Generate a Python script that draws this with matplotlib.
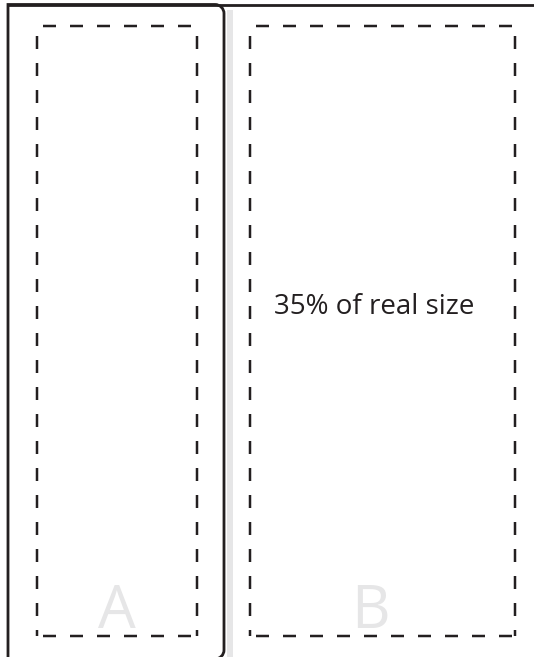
import matplotlib
matplotlib.use("Agg")
import matplotlib.pyplot as plt
from matplotlib.patches import Rectangle, PathPatch
from matplotlib.path import Path
from matplotlib.lines import Line2D

# content
panel_labels = ["A", "B"]
caption = "35% of real size"

W, H = 534, 657
fig = plt.figure(figsize=(W / 100, H / 100), dpi=100)
ax = fig.add_axes([0, 0, 1, 1])
ax.set_xlim(0, W)
ax.set_ylim(H, 0)
ax.axis("off")

ink = "#231f20"
px = 72 / 100  # points per pixel

# shadow of left panel
ax.add_patch(Rectangle((226.5, 10), 6.5, 660, facecolor="#e6e6e7", edgecolor="none", zorder=1))

# left panel: square left corners, rounded right corners
xl, xr, yt, yb, r = 8, 224, 4.5, 659, 9
k = 0.5523 * r
verts = [(xl, yb), (xl, yt), (xr - r, yt),
         (xr - r + k, yt), (xr, yt + r - k), (xr, yt + r),
         (xr, yb - r),
         (xr, yb - r + k), (xr - r + k, yb), (xr - r, yb),
         (xl, yb)]
codes = [Path.MOVETO, Path.LINETO, Path.LINETO,
         Path.CURVE4, Path.CURVE4, Path.CURVE4,
         Path.LINETO,
         Path.CURVE4, Path.CURVE4, Path.CURVE4,
         Path.LINETO]
ax.add_patch(PathPatch(Path(verts, codes), facecolor="white", edgecolor=ink,
                       lw=2.8 * px, joinstyle="miter", zorder=2))
# top rule across the whole width
ax.add_line(Line2D([xl - 1.4, W + 5], [yt, yt], color=ink, lw=2.8 * px,
                   solid_capstyle="butt", zorder=3))

# dashed regions
lw = 2.5 * px
dash = (0, (13 / 2.5, 14 / 2.5))
rects = [(37, 26, 197, 635.5), (250, 26, 514.5, 635.5)]
for (x0, y0, x1, y1) in rects:
    for y in (y0, y1):
        ax.add_line(Line2D([x0 + 6, x1], [y, y], color=ink, lw=lw, linestyle=dash,
                           dash_capstyle="butt", zorder=4))
    for x in (x0, x1):
        ax.add_line(Line2D([x, x], [y0 + 10, y1], color=ink, lw=lw, linestyle=dash,
                           dash_capstyle="butt", zorder=4))

# big panel letters
label_x = [117, 370]
for lab, lx in zip(panel_labels, label_x):
    ax.text(lx, 628, lab, fontsize=43, color="#e6e6e7", ha="center", va="baseline",
            family="Open Sans", zorder=5)

ax.text(374.5, 307, caption, fontsize=20, color=ink, ha="center", va="center",
        family="Open Sans", zorder=5)

fig.savefig("out.png", dpi=100)
